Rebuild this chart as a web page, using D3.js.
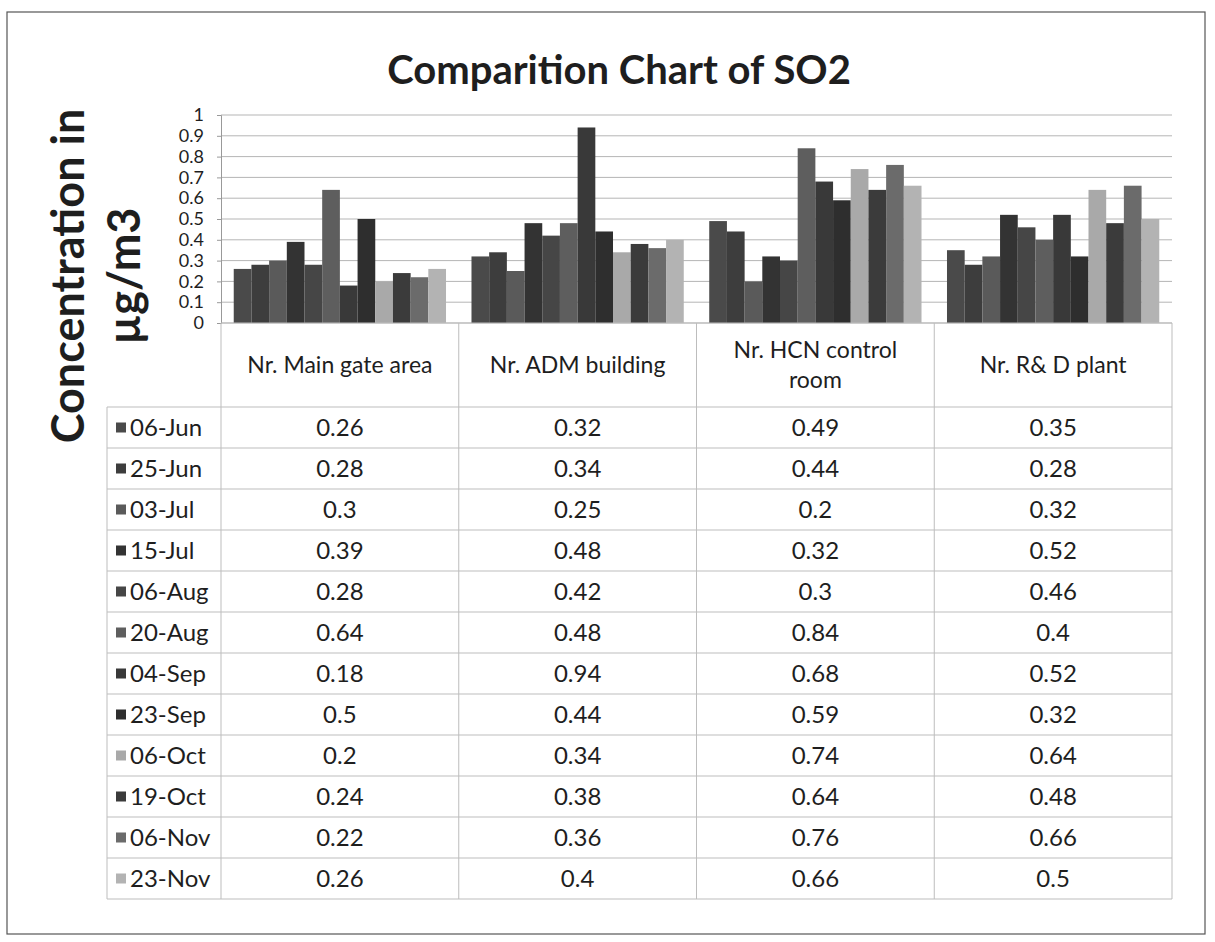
<!DOCTYPE html>
<html>
<head>
<meta charset="utf-8">
<script src="https://cdn.jsdelivr.net/npm/d3@7"></script>
<style>
  body { margin: 0; background: #fff; }
  svg text { font-family: Lato, "Open Sans", sans-serif; fill: #1e1e1e; }
</style>
</head>
<body>
<script>
// sites along the x axis (also the table columns)
var sites = ["Nr. Main gate area", "Nr. ADM building", "Nr. HCN control room", "Nr. R& D plant"];
// sampling dates = series (also the table rows)
var dates = ["06-Jun", "25-Jun", "03-Jul", "15-Jul", "06-Aug", "20-Aug", "04-Sep", "23-Sep", "06-Oct", "19-Oct", "06-Nov", "23-Nov"];

// values per site, in the order of dates
var mainGate = [0.26, 0.28, 0.3, 0.39, 0.28, 0.64, 0.18, 0.5, 0.2, 0.24, 0.22, 0.26];
var admBuilding = [0.32, 0.34, 0.25, 0.48, 0.42, 0.48, 0.94, 0.44, 0.34, 0.38, 0.36, 0.4];
var hcnRoom = [0.49, 0.44, 0.2, 0.32, 0.3, 0.84, 0.68, 0.59, 0.74, 0.64, 0.76, 0.66];
var rdPlant = [0.35, 0.28, 0.32, 0.52, 0.46, 0.4, 0.52, 0.32, 0.64, 0.48, 0.66, 0.5];

var yTicks = [0, 0.1, 0.2, 0.3, 0.4, 0.5, 0.6, 0.7, 0.8, 0.9, 1];

// grey shades of the scanned print
var shades = ["#4a4a4a", "#3d3d3d", "#5a5a5a", "#333333", "#464646", "#5e5e5e",
              "#393939", "#2e2e2e", "#a9a9a9", "#3b3b3b", "#6b6b6b", "#b3b3b3"];

var values = [mainGate, admBuilding, hcnRoom, rdPlant];

var width = 1215, height = 942;

var svg = d3.select("body").append("svg")
    .attr("width", width)
    .attr("height", height);

// outer frame of the chart
svg.append("rect")
    .attr("x", 7).attr("y", 12)
    .attr("width", 1198).attr("height", 922)
    .attr("fill", "none")
    .attr("stroke", "#555")
    .attr("stroke-width", 1.2);

svg.append("text")
    .attr("x", 619).attr("y", 84)
    .attr("text-anchor", "middle")
    .style("font-size", "40px")
    .style("font-weight", "bold")
    .text("Comparition Chart of SO2");

// y axis title, two lines
var yTitle = svg.append("text")
    .attr("transform", "translate(84,276) rotate(-90)")
    .attr("text-anchor", "middle")
    .style("font-size", "45px")
    .style("font-weight", "bold");
yTitle.append("tspan").attr("x", 0).attr("dy", 0).text("Concentration in");
yTitle.append("tspan").attr("x", 0).attr("dy", 56).text("\u00b5g/m3");

var x0 = d3.scaleBand()
    .domain(sites)
    .range([221, 1172]);

var x1 = d3.scaleBand()
    .domain(dates)
    .range([0, x0.bandwidth()])
    .paddingOuter(0.72);

var y = d3.scaleLinear()
    .domain([0, 1])
    .range([323, 115]);

// gridlines
svg.append("g")
    .selectAll("line")
    .data(yTicks)
    .join("line")
    .attr("x1", x0.range()[0]).attr("x2", x0.range()[1])
    .attr("y1", function(d) { return y(d); })
    .attr("y2", function(d) { return y(d); })
    .attr("stroke", "#b5b5b5")
    .attr("stroke-width", 1);

var yAxis = svg.append("g")
    .attr("transform", "translate(" + x0.range()[0] + ",0)")
    .call(d3.axisLeft(y).tickValues(yTicks).tickSize(4).tickPadding(13)
      .tickFormat(function(d) { return d3.format("")(d); }));
yAxis.select(".domain").attr("stroke", "#999");
yAxis.selectAll(".tick line").attr("stroke", "#999");
yAxis.selectAll(".tick text")
    .style("font-size", "18px")
    .attr("dy", "0.32em");

// bars
var group = svg.append("g")
    .selectAll("g")
    .data(sites)
    .join("g")
    .attr("transform", function(d) { return "translate(" + x0(d) + ",0)"; });

group.selectAll("rect")
    .data(function(s, i) {
      return dates.map(function(dt, j) { return { date: dt, value: values[i][j], k: j }; });
    })
    .join("rect")
    .attr("x", function(d) { return x1(d.date); })
    .attr("y", function(d) { return y(d.value); })
    .attr("width", x1.bandwidth())
    .attr("height", function(d) { return y(0) - y(d.value); })
    .attr("fill", function(d) { return shades[d.k]; });

// data table under the plot
var headTop = 323, rowTop = 407, rowH = 41;
var legLeft = 107;
var table = svg.append("g");
var lineColor = "#bdbdbd";

// horizontal lines
table.append("line")
    .attr("x1", x0.range()[0]).attr("x2", x0.range()[1])
    .attr("y1", headTop).attr("y2", headTop)
    .attr("stroke", lineColor);
table.selectAll(".hrow")
    .data(d3.range(dates.length + 1))
    .join("line")
    .attr("class", "hrow")
    .attr("x1", legLeft).attr("x2", x0.range()[1])
    .attr("y1", function(i) { return rowTop + i * rowH; })
    .attr("y2", function(i) { return rowTop + i * rowH; })
    .attr("stroke", lineColor);

// vertical lines
var colEdges = sites.map(function(s) { return x0(s); }).concat([x0.range()[1]]);
table.selectAll(".vcol")
    .data(colEdges)
    .join("line")
    .attr("class", "vcol")
    .attr("x1", function(d) { return d; }).attr("x2", function(d) { return d; })
    .attr("y1", headTop)
    .attr("y2", rowTop + dates.length * rowH)
    .attr("stroke", lineColor);
table.append("line")
    .attr("x1", legLeft).attr("x2", legLeft)
    .attr("y1", rowTop).attr("y2", rowTop + dates.length * rowH)
    .attr("stroke", lineColor);

// column headers
var heads = table.selectAll(".head")
    .data(sites)
    .join("text")
    .attr("class", "head")
    .attr("text-anchor", "middle")
    .style("font-size", "23px");
heads.each(function(s) {
  var t = d3.select(this);
  var cx = x0(s) + x0.bandwidth() / 2;
  var lines = s === "Nr. HCN control room" ? ["Nr. HCN control", "room"] : [s];
  var first = (headTop + rowTop) / 2 + 8 - (lines.length - 1) * 15;
  lines.forEach(function(l, i) {
    t.append("tspan").attr("x", cx).attr("y", first + i * 30).text(l);
  });
});

// row labels with swatches
var rows = table.selectAll(".row")
    .data(dates)
    .join("g")
    .attr("class", "row")
    .attr("transform", function(d, i) { return "translate(0," + (rowTop + i * rowH + rowH / 2) + ")"; });

rows.append("rect")
    .attr("x", 116).attr("y", -5)
    .attr("width", 10).attr("height", 10)
    .attr("fill", function(d, i) { return shades[i]; });
rows.append("text")
    .attr("x", 130).attr("y", 8)
    .style("font-size", "24px")
    .text(function(d) { return d; });

// cell values
rows.each(function(dt, j) {
  d3.select(this).selectAll(".val")
    .data(sites)
    .join("text")
    .attr("class", "val")
    .attr("x", function(s) { return x0(s) + x0.bandwidth() / 2; })
    .attr("y", 8)
    .attr("text-anchor", "middle")
    .style("font-size", "24px")
    .text(function(s, i) { return values[i][j]; });
});
</script>
</body>
</html>
